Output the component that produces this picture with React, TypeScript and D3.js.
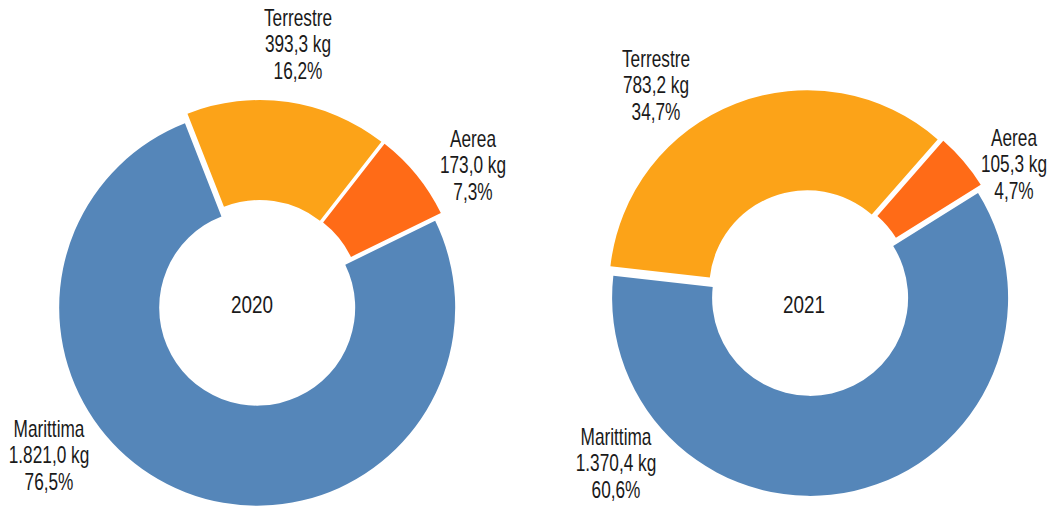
import * as d3 from "d3";

const width = 1056;
const height = 509;

const categories = ["Marittima", "Terrestre", "Aerea"];
const colors = ["#5586b9", "#fca318", "#ff6b17"];

const years = ["2020", "2021"];
const kg2020 = [1821.0, 393.3, 173.0];
const kg2021 = [1370.4, 783.2, 105.3];
const pct2020 = [76.5, 16.2, 7.3];
const pct2021 = [60.6, 34.7, 4.7];

// layout (not data): centre, start angle of first slice, label anchors
const charts = [
  {
    year: years[0],
    kg: kg2020,
    pct: pct2020,
    cx: 259,
    cy: 303,
    start: 64,
    yearPos: [252, 313],
    labels: [
      [49, 437],
      [298, 26],
      [473, 147],
    ],
  },
  {
    year: years[1],
    kg: kg2021,
    pct: pct2021,
    cx: 809,
    cy: 293,
    start: 58,
    yearPos: [804, 313],
    labels: [
      [616, 445],
      [656, 67],
      [1014, 146],
    ],
  },
];

const outerR = 198;
const innerR = 98;
const explode = 5;
const lineH = 26.5;
const font = "'Liberation Sans', Arial, sans-serif";
const fontSize = 23;
const squeeze = 0.75;

const fmt = (v: number, digits = 1) => {
  const s = v.toFixed(digits).split(".");
  const int = s[0].replace(/\B(?=(\d{3})+(?!\d))/g, ".");
  return int + "," + s[1];
};

const arc = d3.arc<d3.PieArcDatum<number>>().innerRadius(innerR).outerRadius(outerR);

const App = () => {
  return (
    <svg
      width={width}
      height={height}
      style={{ position: "absolute", left: 0, top: 0, background: "#fff" }}
      fontFamily={font}
    >
      {charts.map((c) => {
        const a0 = (c.start * Math.PI) / 180;
        const pie = d3
          .pie<number>()
          .sort(null)
          .value((d) => d)
          .startAngle(a0)
          .endAngle(a0 + 2 * Math.PI);
        const arcs = pie(c.kg);
        return (
          <g key={c.year}>
            <g transform={`translate(${c.cx},${c.cy})`}>
              {arcs.map((a, i) => {
                const mid = (a.startAngle + a.endAngle) / 2;
                const dx = Math.sin(mid) * explode;
                const dy = -Math.cos(mid) * explode;
                return (
                  <path
                    key={i}
                    d={arc(a) || ""}
                    fill={colors[i]}
                    transform={`translate(${dx},${dy})`}
                  />
                );
              })}
            </g>
            <g transform={`translate(${c.yearPos[0]},${c.yearPos[1]}) scale(0.82,1)`}>
              <text x={0} y={0} textAnchor="middle" fontSize={fontSize} fill="#1a1a1a">
                {c.year}
              </text>
            </g>
            {categories.map((name, i) => {
              const [lx, ly] = c.labels[i];
              return (
                <g key={name} transform={`translate(${lx},${ly}) scale(${squeeze},1)`}>
                  <text textAnchor="middle" fontSize={fontSize} fill="#1a1a1a">
                    <tspan x={0} y={0}>
                      {name}
                    </tspan>
                    <tspan x={0} y={lineH}>
                      {fmt(c.kg[i])} kg
                    </tspan>
                    <tspan x={0} y={2 * lineH}>
                      {fmt(c.pct[i])}%
                    </tspan>
                  </text>
                </g>
              );
            })}
          </g>
        );
      })}
    </svg>
  );
};

export default App;
